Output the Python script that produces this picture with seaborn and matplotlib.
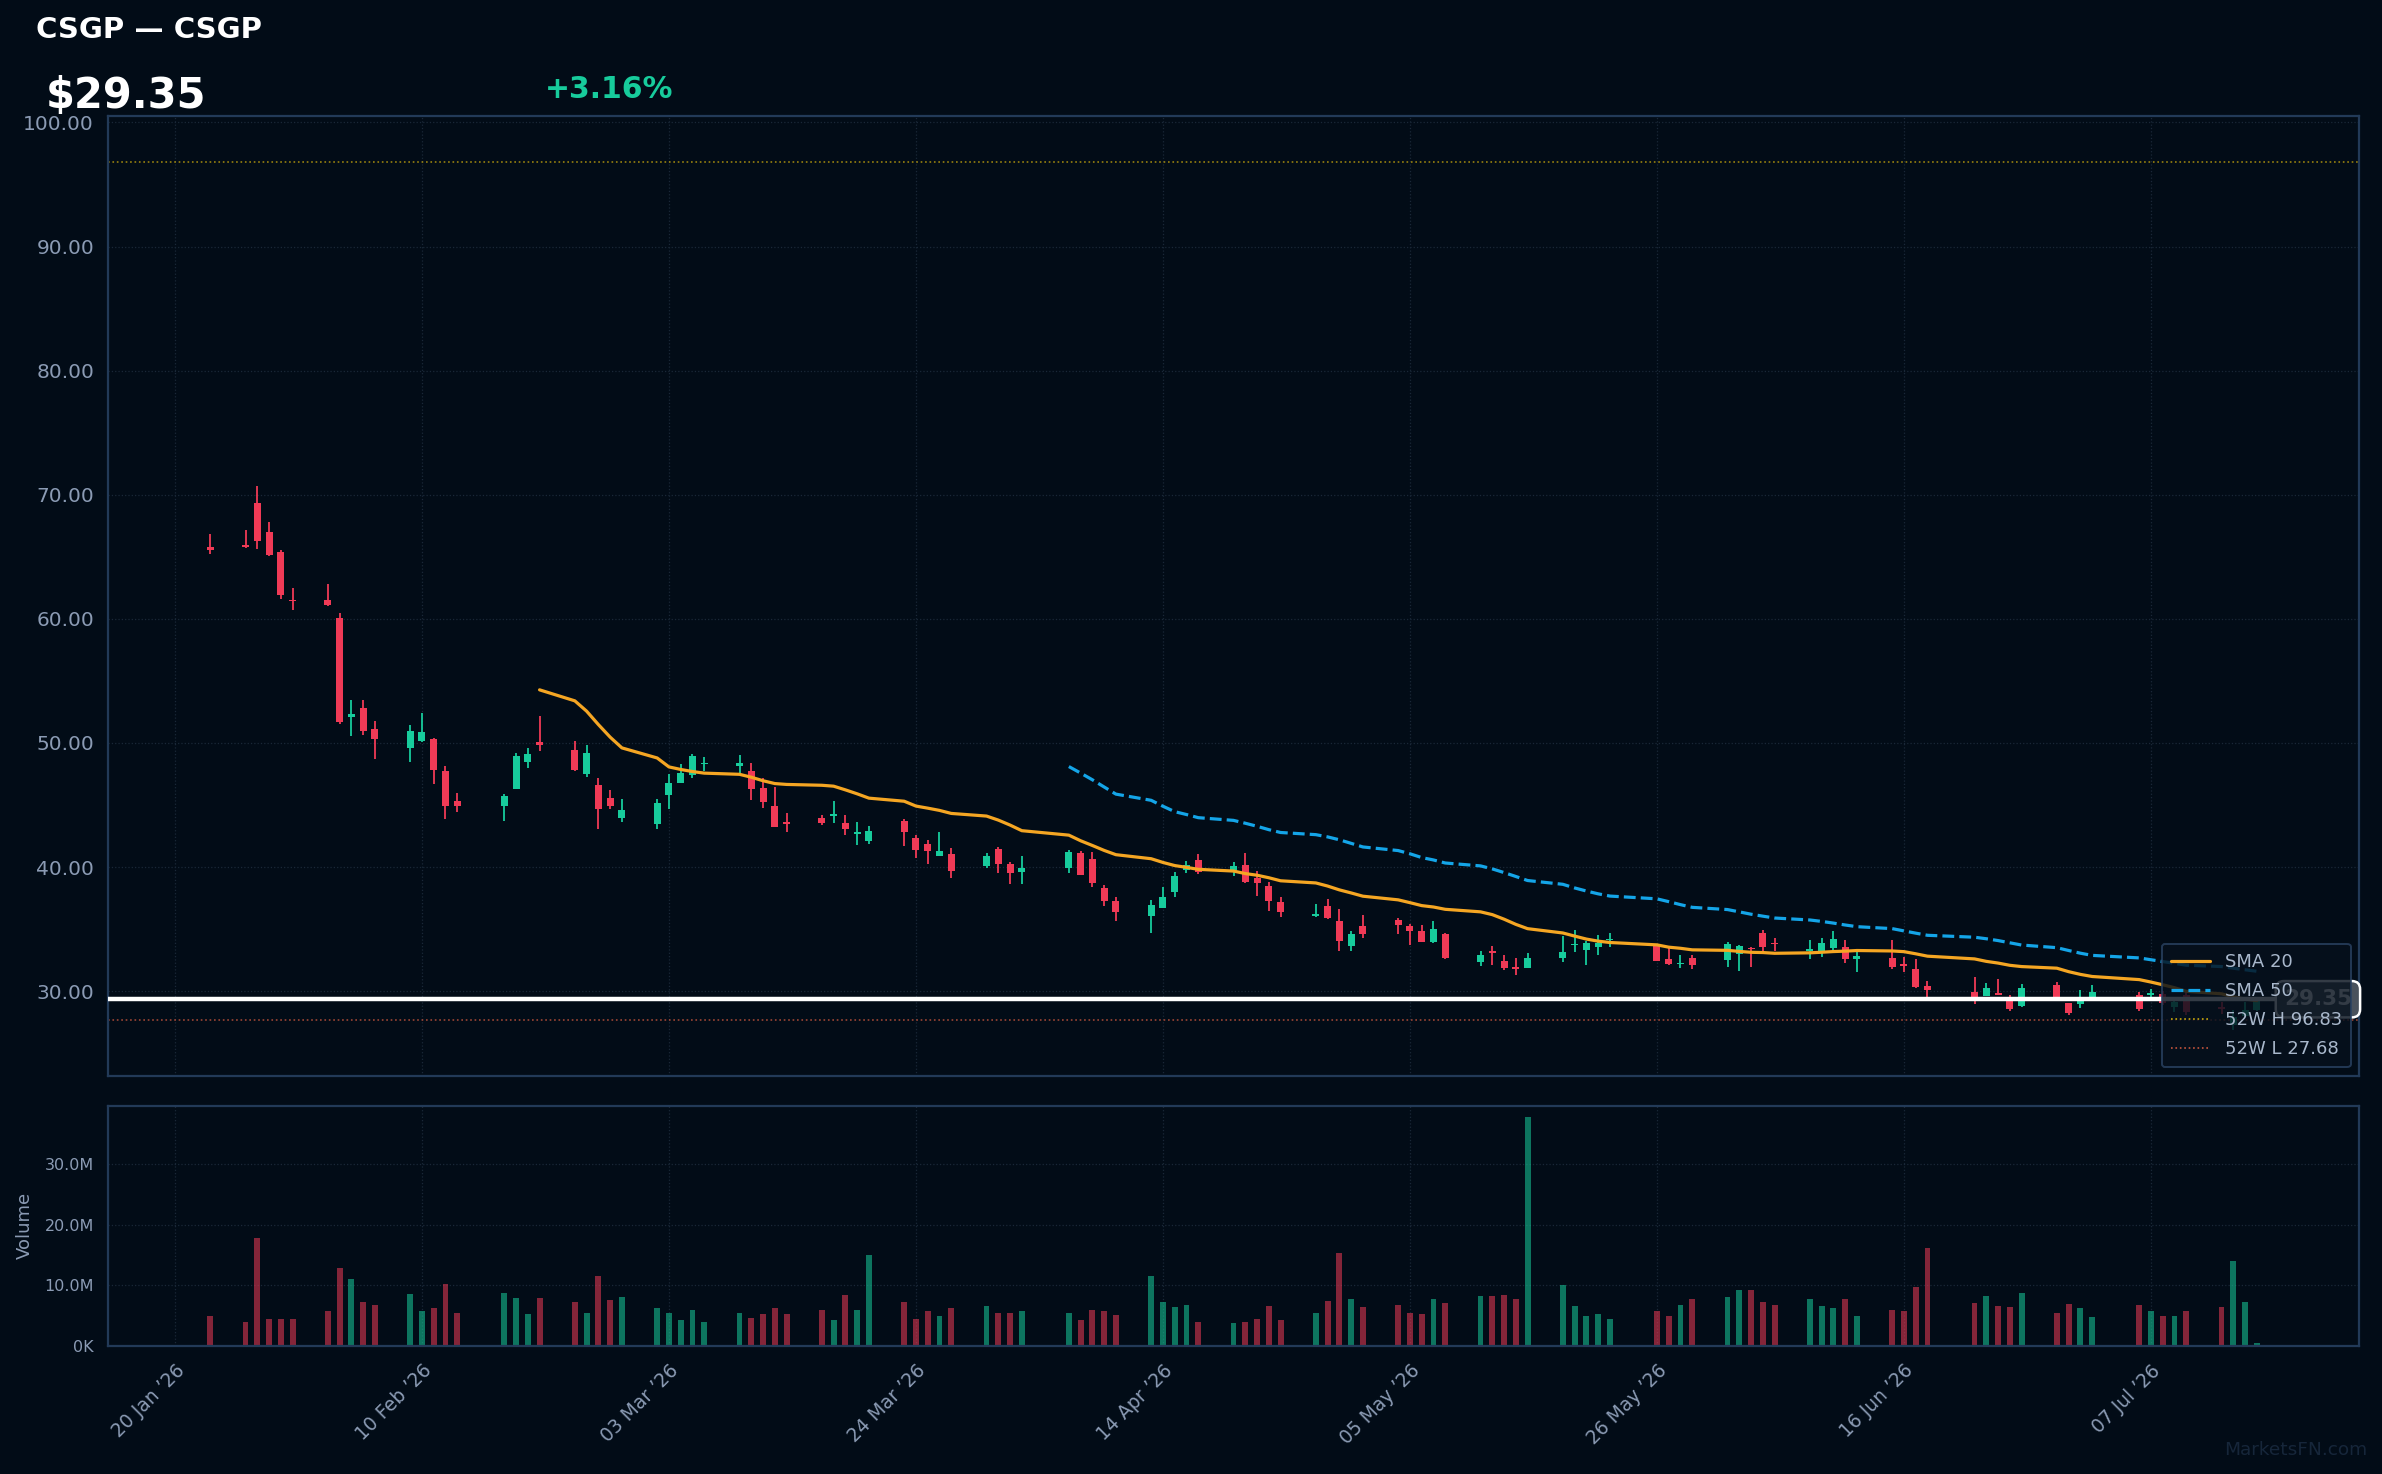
import numpy as np
import pandas as pd
import matplotlib
matplotlib.use("Agg")
import matplotlib.pyplot as plt
import matplotlib.dates as mdates
import matplotlib.transforms as mtrans
from matplotlib.lines import Line2D
from matplotlib.ticker import FuncFormatter, FixedLocator
import seaborn as sns

# ---------------- data ----------------
ticker = "CSGP"
last_price = 29.35
pct_change = 3.16
high_52w = 96.83
low_52w = 27.68

holidays = ["2026-02-16", "2026-04-03", "2026-05-25", "2026-06-19", "2026-07-03"]
trade_dates = pd.bdate_range("2026-01-23", "2026-07-16")
trade_dates = trade_dates[~trade_dates.isin(pd.to_datetime(holidays))]

opens = [65.8, 65.95, 69.3, 66.98, 65.38, 61.5, 61.5, 60.08, 52.12, 52.8,
         51.1, 49.6, 50.15, 50.3, 47.73, 45.35, 44.9, 46.27, 48.46, 50.1,
         49.4, 47.52, 46.6, 45.53, 43.94, 43.44, 45.78, 46.74, 47.45, 48.3,
         48.12, 47.73, 46.38, 44.96, 43.65, 43.94, 44.08, 43.55, 42.7, 42.13,
         43.69, 42.34, 41.84, 40.92, 41.03, 40.07, 41.49, 40.28, 39.57, 39.89,
         41.1, 40.67, 38.3, 37.23, 36.06, 36.7, 38.01, 39.79, 40.57, 39.75,
         40.15, 39.12, 38.45, 37.21, 36.08, 36.85, 35.64, 33.64, 35.24, 35.71,
         35.24, 34.87, 33.94, 34.61, 32.33, 33.24, 32.4, 31.9, 31.9, 32.67,
         33.71, 33.3, 33.54, 34.1, 33.64, 32.57, 32.17, 32.67, 32.54, 33.0,
         33.47, 34.67, 33.9, 33.27, 33.07, 33.47, 33.54, 32.57, 32.67, 32.2,
         31.77, 30.4, 29.96, 29.6, 29.83, 29.5, 28.79, 30.53, 29.03, 29.0,
         29.5, 29.7, 29.66, 29.8, 28.74, 29.68, 28.74, 27.3, 28.0, 28.5]
highs = [66.85, 67.15, 70.7, 67.8, 65.52, 62.46, 62.82, 60.44, 53.45, 53.45,
         51.75, 51.43, 52.4, 50.38, 48.14, 45.95, 45.9, 49.2, 49.6, 52.17,
         50.14, 49.82, 47.16, 46.2, 45.46, 45.46, 47.48, 48.3, 49.08, 48.87,
         49.0, 48.37, 47.16, 46.42, 44.33, 44.18, 45.32, 44.18, 43.62, 43.33,
         43.86, 42.55, 42.16, 42.8, 41.52, 41.1, 41.63, 40.39, 40.89, 41.35,
         41.28, 41.2, 38.55, 37.55, 37.34, 38.37, 39.57, 40.46, 41.03, 40.39,
         41.12, 39.65, 38.78, 37.58, 37.01, 37.41, 36.61, 34.84, 36.11, 35.88,
         35.38, 35.31, 35.64, 34.67, 33.24, 33.64, 32.9, 32.67, 33.07, 34.44,
         34.91, 34.07, 34.51, 34.67, 33.72, 33.47, 32.94, 32.94, 33.94, 33.74,
         33.54, 34.91, 34.31, 34.11, 34.27, 34.84, 34.11, 33.17, 34.11, 32.74,
         32.57, 30.8, 31.13, 30.63, 30.96, 29.73, 30.56, 30.73, 29.06, 30.06,
         30.46, 29.93, 30.16, 30.0, 29.3, 29.9, 29.14, 28.5, 29.1, 29.5]
lows = [65.25, 65.7, 65.6, 65.1, 61.6, 60.7, 61.0, 51.5, 50.57, 50.66,
        48.7, 48.46, 50.1, 46.68, 43.9, 44.44, 43.7, 46.27, 47.96, 49.33,
        47.73, 47.23, 43.05, 44.65, 43.62, 43.05, 44.65, 46.74, 47.16, 47.73,
        47.6, 45.39, 44.75, 43.19, 42.84, 43.4, 43.55, 42.59, 41.77, 41.88,
        41.67, 40.71, 40.25, 40.92, 39.11, 39.93, 39.54, 38.65, 38.65, 39.54,
        39.36, 38.4, 36.88, 35.67, 34.71, 36.7, 37.59, 39.54, 39.43, 39.25,
        38.72, 37.65, 36.45, 35.98, 35.98, 35.84, 33.24, 33.24, 34.27, 34.61,
        33.7, 33.94, 33.87, 32.57, 32.03, 32.13, 31.7, 31.3, 31.9, 32.33,
        33.17, 32.13, 32.94, 33.54, 32.4, 32.13, 31.9, 31.77, 31.97, 31.63,
        31.97, 33.24, 33.24, 32.6, 32.77, 33.2, 32.3, 31.57, 31.8, 31.57,
        30.26, 29.53, 28.96, 29.6, 29.66, 28.39, 28.69, 29.5, 28.06, 28.63,
        29.5, 28.39, 29.5, 28.9, 28.33, 28.07, 28.2, 26.9, 27.9, 28.4]
closes = [65.55, 65.8, 66.25, 65.15, 61.9, 61.4, 61.13, 51.66, 52.3, 50.97,
          50.3, 50.98, 50.88, 47.82, 44.9, 44.9, 45.72, 48.97, 49.15, 49.86,
          47.8, 49.19, 44.65, 44.9, 44.57, 45.14, 46.74, 47.55, 48.94, 48.4,
          48.4, 46.31, 45.21, 43.26, 43.5, 43.55, 44.26, 43.05, 42.77, 42.87,
          42.84, 41.38, 41.31, 41.28, 39.68, 40.89, 40.25, 39.54, 39.89, 41.2,
          39.36, 38.69, 37.27, 36.38, 36.98, 37.55, 39.25, 40.14, 39.61, 40.09,
          38.78, 38.72, 37.25, 36.38, 36.21, 35.88, 34.07, 34.61, 34.64, 35.31,
          34.84, 33.94, 35.01, 32.67, 32.9, 33.07, 31.9, 31.8, 32.67, 33.14,
          33.78, 33.9, 33.9, 34.2, 32.4, 32.17, 32.27, 32.1, 33.84, 33.6,
          33.37, 33.57, 33.8, 33.4, 33.87, 34.17, 32.57, 32.8, 31.97, 32.03,
          30.33, 30.06, 29.5, 30.23, 29.66, 28.56, 30.23, 29.5, 28.23, 29.23,
          29.96, 28.56, 29.83, 29.05, 29.14, 28.33, 28.6, 27.9, 28.45, 29.35]
volumes_m = [4.9, 3.85, 17.9, 4.4, 4.4, 4.5, 5.8, 12.8, 11.0, 7.3,
             6.7, 8.5, 5.8, 6.2, 10.3, 5.5, 8.8, 7.9, 5.2, 7.9,
             7.2, 5.5, 11.5, 7.6, 8.0, 6.2, 5.5, 4.2, 5.9, 3.9,
             5.5, 4.6, 5.2, 6.2, 5.2, 5.9, 4.2, 8.4, 6.0, 15.1,
             7.2, 4.5, 5.7, 4.9, 6.2, 6.5, 5.4, 5.4, 5.7, 5.4,
             4.2, 6.0, 5.7, 5.1, 11.5, 7.3, 6.4, 6.7, 3.9, 3.7,
             3.9, 4.4, 6.5, 4.2, 5.5, 7.4, 15.3, 7.8, 6.4, 6.7,
             5.5, 5.3, 7.7, 7.0, 8.2, 8.2, 8.4, 7.8, 37.8, 10.1,
             6.5, 4.9, 5.3, 4.5, 5.8, 4.9, 6.7, 7.7, 8.0, 9.2,
             9.3, 7.3, 6.8, 7.7, 6.5, 6.2, 7.7, 4.9, 6.0, 5.7,
             9.7, 16.1, 7.0, 8.2, 6.5, 6.4, 8.7, 5.5, 6.9, 6.2,
             4.7, 6.7, 5.8, 5.0, 4.9, 5.8, 6.4, 14.0, 7.2, 0.5]

tick_start = "2026-01-20"
tick_step_days = 21
n_ticks = 9

# ---------------- style ----------------
BG = "#020c17"
UP = "#17cc9c"
DN = "#f03a56"
SPINE = "#223a58"
TXT = "#8b9bb4"
GRID = "#1a2838"
SMA20_C = "#f5a623"
SMA50_C = "#14a5e8"

sns.set_theme(style="dark")
plt.rcParams["font.family"] = ["DejaVu Sans"]
plt.rcParams["axes.facecolor"] = BG
plt.rcParams["figure.facecolor"] = BG

df = pd.DataFrame({"date": trade_dates, "open": opens, "high": highs,
                   "low": lows, "close": closes,
                   "volume": np.array(volumes_m) * 1e6})
df["sma20"] = df["close"].rolling(20).mean()
df["sma50"] = df["close"].rolling(50).mean()
df["x"] = mdates.date2num(df["date"])
up = df["close"] >= df["open"]
cols = np.where(up, UP, DN)

fig = plt.figure(figsize=(23.82, 14.74), dpi=100)
ax = fig.add_axes([0.0453, 0.2703, 0.9451, 0.6513])
axv = fig.add_axes([0.0453, 0.0870, 0.9451, 0.1627], sharex=ax)

for a in (ax, axv):
    a.set_facecolor(BG)
    for s in a.spines.values():
        s.set_color(SPINE)
        s.set_linewidth(1.6)
    a.grid(True, color=GRID, linestyle=":", linewidth=0.9)
    a.set_axisbelow(True)

# candles
ax.vlines(df["x"], df["low"], df["high"], colors=cols, linewidth=1.3, zorder=2)
body_lo = np.minimum(df["open"], df["close"])
body_h = np.maximum(np.abs(df["close"] - df["open"]), 0.12)
ax.bar(df["x"], body_h, bottom=body_lo, width=0.6, color=cols, linewidth=0, zorder=3)

# moving averages
s20 = df.dropna(subset=["sma20"])
s50 = df.dropna(subset=["sma50"])
sns.lineplot(x=s20["x"].values, y=s20["sma20"].values, ax=ax, color=SMA20_C,
             linewidth=2.3, zorder=3.5)
sns.lineplot(x=s50["x"].values, y=s50["sma50"].values, ax=ax, color=SMA50_C,
             linewidth=2.3, linestyle="--", zorder=3.5)

ax.axhline(high_52w, color="#c9a80c", linestyle=":", linewidth=1.2, alpha=0.75, zorder=1.5)
ax.axhline(low_52w, color="#c4543c", linestyle=":", linewidth=1.2, alpha=0.8, zorder=1.5)
ax.axhline(last_price, color="white", linewidth=3.2, zorder=4)

trans = mtrans.blended_transform_factory(ax.transAxes, ax.transData)
ax.text(0.9968, last_price, f"{last_price:.2f}", transform=trans, ha="right", va="center",
        fontsize=15.5, fontweight="bold", color="white", clip_on=False, zorder=4.5,
        bbox=dict(boxstyle="round,pad=0.38", fc="#4a525c", ec="white", lw=1.8))

span = df["x"].iloc[-1] - df["x"].iloc[0]
ax.set_xlim(df["x"].iloc[0] - 0.05 * span, df["x"].iloc[-1] + 0.05 * span)
ax.set_ylim(23.2, 100.55)
ax.yaxis.set_major_locator(FixedLocator(np.arange(30, 101, 10)))
ax.yaxis.set_major_formatter(FuncFormatter(lambda v, p: f"{v:.2f}"))
ax.tick_params(axis="y", labelsize=14.5, colors=TXT, length=5, width=1.2, pad=5)
ax.tick_params(axis="x", labelbottom=False, length=0)
ax.set_xlabel("")
ax.set_ylabel("")

handles = [Line2D([], [], color=SMA20_C, lw=2.3),
           Line2D([], [], color=SMA50_C, lw=2.3, ls="--"),
           Line2D([], [], color="#c9a80c", lw=1.2, ls=":"),
           Line2D([], [], color="#c4543c", lw=1.2, ls=":")]
labels = ["SMA 20", "SMA 50", f"52W H {high_52w:.2f}", f"52W L {low_52w:.2f}"]
leg = ax.legend(handles, labels, loc="lower right", fontsize=13, frameon=True,
                facecolor="#06101c", edgecolor="#2a4262", framealpha=0.82,
                labelcolor="#a9b8cc", handlelength=2.2, labelspacing=0.62,
                borderaxespad=0.45, borderpad=0.5)
leg.get_frame().set_linewidth(1.4)
leg.set_zorder(6)

# volume
axv.bar(df["x"], df["volume"], width=0.5, color=cols, alpha=0.55, linewidth=0, zorder=2)
axv.set_ylim(0, df["volume"].max() * 1.05)
axv.yaxis.set_major_locator(FixedLocator([0, 10e6, 20e6, 30e6]))
axv.yaxis.set_major_formatter(FuncFormatter(
    lambda v, p: f"{v/1e6:.1f}M" if v >= 1e6 else f"{v/1e3:.0f}K"))
axv.tick_params(axis="y", labelsize=11.5, colors=TXT, length=5, width=1.2, pad=5)
axv.set_ylabel("Volume", fontsize=13, color=TXT)
axv.yaxis.set_label_coords(-0.033, 0.5)

tick_dates = pd.date_range(tick_start, periods=n_ticks, freq=f"{tick_step_days}D")
axv.xaxis.set_major_locator(FixedLocator(mdates.date2num(tick_dates)))
axv.set_xticklabels([d.strftime("%d %b \u2019%y") for d in tick_dates])
axv.tick_params(axis="x", labelsize=13.5, colors=TXT, length=5, width=1.2, pad=6)
for lab in axv.get_xticklabels():
    lab.set_rotation(45)
    lab.set_ha("right")
    lab.set_rotation_mode("anchor")
axv.set_xlabel("")

# header texts
fig.text(0.0151, 0.974, f"{ticker} \u2014 {ticker}", fontsize=21, fontweight="bold",
         color="white", ha="left", va="baseline")
fig.text(0.0191, 0.9267, f"${last_price:.2f}", fontsize=30, fontweight="bold",
         color="white", ha="left", va="baseline")
fig.text(0.2286, 0.9333, f"+{pct_change:.2f}%", fontsize=21.5, fontweight="bold",
         color=UP, ha="left", va="baseline")
fig.text(0.9937, 0.0129, "MarketsFN.com", fontsize=13.3, color="#16263a",
         ha="right", va="baseline")

fig.savefig("out.png", dpi=100, facecolor=BG)
